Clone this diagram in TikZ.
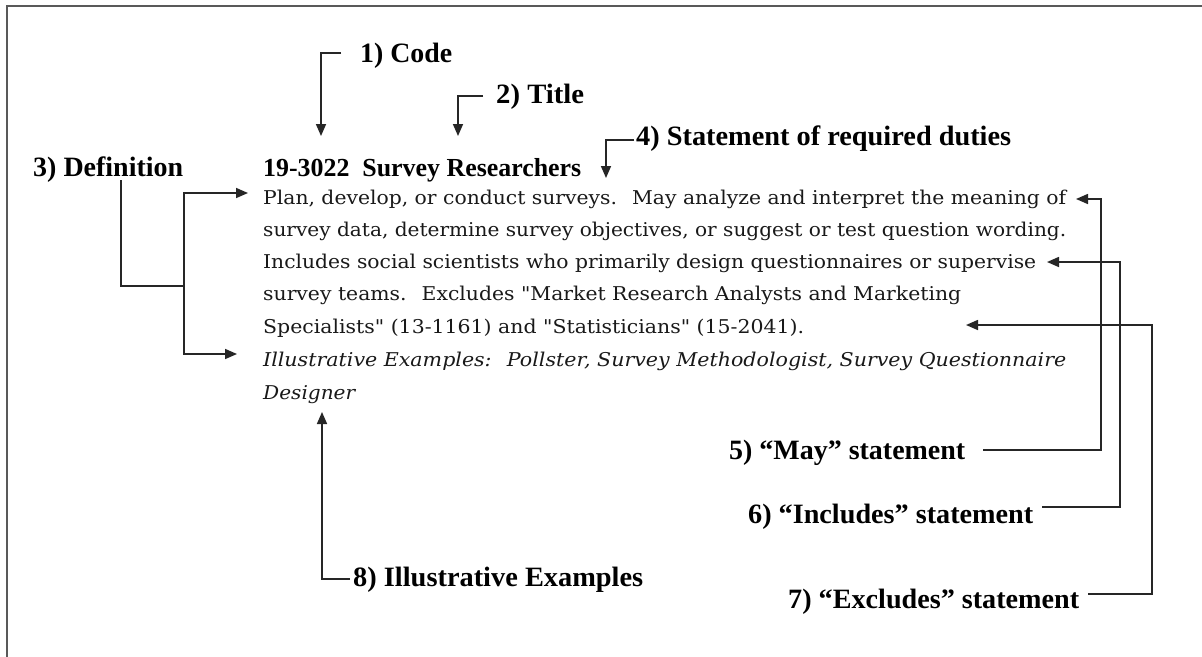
\documentclass[tikz,border=0pt]{standalone}
\usepackage{fontspec}
\usepackage{graphicx}
\usetikzlibrary{arrows.meta}
\newfontfamily\bodyfont{DejaVu Serif}
\newfontfamily\lblfont{Liberation Serif}
\newcommand\fitw[2]{\resizebox{#1}{\height}{#2}}
\begin{document}
\begin{tikzpicture}[x=1pt,y=-1pt,
  conn/.style={line width=1.6pt, draw=black!85},
  arr/.style={conn, -{Triangle[length=12pt,width=10pt]}},
  lbl/.style={anchor=base west, inner sep=0pt, font=\lblfont\bfseries\fontsize{28}{30}\selectfont},
  ttl/.style={anchor=base west, inner sep=0pt, font=\lblfont\bfseries\fontsize{26}{28}\selectfont},
  body/.style={anchor=base west, inner sep=0pt, text=black!90, font=\bodyfont\fontsize{19}{21}\selectfont},
  bodyit/.style={anchor=base west, inner sep=0pt, text=black!90, font=\bodyfont\itshape\fontsize{19}{21}\selectfont},
]
\useasboundingbox (0,0) rectangle (1202,656);
\fill[white] (0,0) rectangle (1202,656);
% frame
\draw[line width=2.2pt, draw=black!65] (7,660) -- (7,6) -- (1206,6);

% main entry
\node[ttl] (title) at (263,176) {\fitw{318pt}{19-3022~ Survey Researchers}};
\node[body] (b1) at (263,204) {\fitw{803pt}{Plan, develop, or conduct surveys.~ May analyze and interpret the meaning of}};
\node[body] (b2) at (263,236) {\fitw{803pt}{survey data, determine survey objectives, or suggest or test question wording.}};
\node[body] (b3) at (263,268) {\fitw{773pt}{Includes social scientists who primarily design questionnaires or supervise}};
\node[body] (b4) at (263,300) {\fitw{698pt}{survey teams.~ Excludes "Market Research Analysts and Marketing}};
\node[body] (b5) at (263,333) {\fitw{541pt}{Specialists" (13-1161) and "Statisticians" (15-2041).}};
\node[bodyit] (b6) at (263,366) {\fitw{803pt}{Illustrative Examples:~ Pollster, Survey Methodologist, Survey Questionnaire}};
\node[bodyit] (b7) at (263,399) {\fitw{92pt}{Designer}};

% labels
\node[lbl] (lcode) at (360,62) {\fitw{92pt}{1) Code}};
\node[lbl] (ltitle) at (496,103) {\fitw{88pt}{2) Title}};
\node[lbl] (ldef) at (33,176) {\fitw{150pt}{3) Definition}};
\node[lbl] (lduty) at (636,145) {\fitw{375pt}{4) Statement of required duties}};
\node[lbl] (lmay) at (729,459) {\fitw{236pt}{5) “May” statement}};
\node[lbl] (linc) at (748,523) {\fitw{285pt}{6) “Includes” statement}};
\node[lbl] (lexc) at (788,608) {\fitw{291pt}{7) “Excludes” statement}};
\node[lbl] (lill) at (353,586) {\fitw{290pt}{8) Illustrative Examples}};

% connector points
\coordinate (c1a) at (341,53);
\coordinate (c1b) at (321,53);
\coordinate (c1t) at (321,136);
\coordinate (c2a) at (483,96);
\coordinate (c2b) at (458,96);
\coordinate (c2t) at (458,136);
\coordinate (c4a) at (634,140);
\coordinate (c4b) at (606,140);
\coordinate (c4t) at (606,178);
\coordinate (c3a) at (121,180);
\coordinate (c3j) at (184,286);
\coordinate (c3t1) at (248,193);
\coordinate (c3t2) at (237,354);
\coordinate (c5a) at (983,450);
\coordinate (c5b) at (1101,450);
\coordinate (c5c) at (1101,199);
\coordinate (c5t) at (1076,199);
\coordinate (c6a) at (1042,507);
\coordinate (c6b) at (1120,507);
\coordinate (c6c) at (1120,262);
\coordinate (c6t) at (1047,262);
\coordinate (c7a) at (1088,594);
\coordinate (c7b) at (1152,594);
\coordinate (c7c) at (1152,325);
\coordinate (c7t) at (966,325);
\coordinate (c8a) at (350,579);
\coordinate (c8b) at (322,579);
\coordinate (c8t) at (322,412);

% connectors
\draw[arr] (c1a) -- (c1b) -- (c1t);
\draw[arr] (c2a) -- (c2b) -- (c2t);
\draw[arr] (c4a) -- (c4b) -- (c4t);
\draw[conn] (c3a) |- (c3j);
\draw[arr] (c3j) |- (c3t1);
\draw[arr] (c3j) |- (c3t2);
\draw[arr] (c5a) -- (c5b) -- (c5c) -- (c5t);
\draw[arr] (c6a) -- (c6b) -- (c6c) -- (c6t);
\draw[arr] (c7a) -- (c7b) -- (c7c) -- (c7t);
\draw[arr] (c8a) -- (c8b) -- (c8t);
\end{tikzpicture}
\end{document}
